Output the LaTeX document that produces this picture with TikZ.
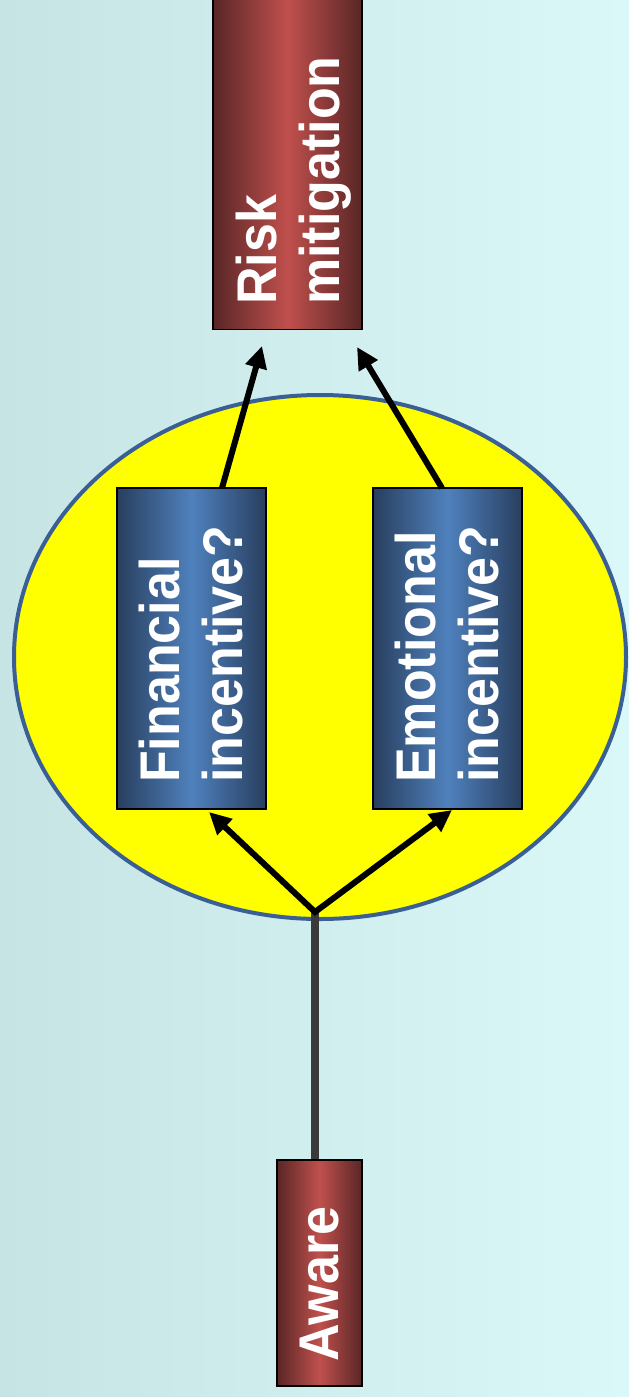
\documentclass[tikz,border=0pt]{standalone}
\usepackage{fontspec}
\setmainfont{Liberation Sans}
\usetikzlibrary{arrows.meta,shapes.geometric}
\definecolor{bgL}{RGB}{199,228,228}
\definecolor{bgR}{RGB}{219,248,248}
\definecolor{redE}{RGB}{88,38,38}
\definecolor{redC}{RGB}{192,80,77}
\definecolor{bluE}{RGB}{40,62,94}
\definecolor{bluC}{RGB}{79,129,189}
\definecolor{ellB}{RGB}{58,95,148}
\definecolor{ellF}{RGB}{255,255,0}
\definecolor{stemC}{RGB}{58,58,58}
\begin{document}
\begin{tikzpicture}[x=1pt,y=-1pt,
  redbox/.style={draw=black, line width=1.5pt, inner sep=0pt, left color=redE, right color=redE, middle color=redC},
  bluebox/.style={draw=black, line width=1.5pt, inner sep=0pt, left color=bluE, right color=bluE, middle color=bluC},
  lbl/.style={text=white, font=\bfseries\fontsize{52}{58.6}\selectfont, align=left, rotate=90, yscale=1.075, inner sep=0pt, anchor=west},
  arr/.style={line width=6pt, -{Triangle[length=22pt,width=21pt]}},
  varr/.style={line width=6pt, {Triangle[length=22pt,width=21pt]}-{Triangle[length=22pt,width=21pt]}, line join=miter},
  stemline/.style={line width=8pt, draw=stemC}
]
\useasboundingbox (0,0) rectangle (629,1397);
\shade[left color=bgL, right color=bgR] (0,0) rectangle (629,1397);

\node[ellipse, draw=ellB, fill=ellF, line width=4pt, minimum width=612pt, minimum height=524pt, inner sep=0pt] (ell) at (320,657) {};

\coordinate (awT) at (315,1160);
\coordinate (j) at (315,912);
\draw[stemline] (awT) -- (j);

\node[redbox, minimum width=149pt, minimum height=333pt] (risk) at (287.5,163) {};
\node[bluebox, minimum width=149pt, minimum height=321pt] (fin) at (191.5,648.5) {};
\node[bluebox, minimum width=149pt, minimum height=321pt] (emo) at (447.5,648.5) {};
\node[redbox, minimum width=85pt, minimum height=226pt] (aware) at (319.5,1273) {};

\node[lbl] (riskT) at (294,305) {Risk\\mitigation};
\node[lbl] (finT) at (191.5,783) {Financial\\incentive?};
\node[lbl] (emoT) at (447.5,783) {Emotional\\incentive?};
\node[lbl] (awareT) at (320,1362) {Aware};

\coordinate (finTop) at (222,488);
\coordinate (emoTop) at (442,488);
\coordinate (riskL) at (262,346);
\coordinate (riskR) at (357,347);
\coordinate (finBot) at (209,812);
\coordinate (emoBot) at (452,810);

\draw[arr] (finTop) -- (riskL);
\draw[arr] (emoTop) -- (riskR);
\draw[varr] (finBot) -- (j) -- (emoBot);
\end{tikzpicture}
\end{document}
